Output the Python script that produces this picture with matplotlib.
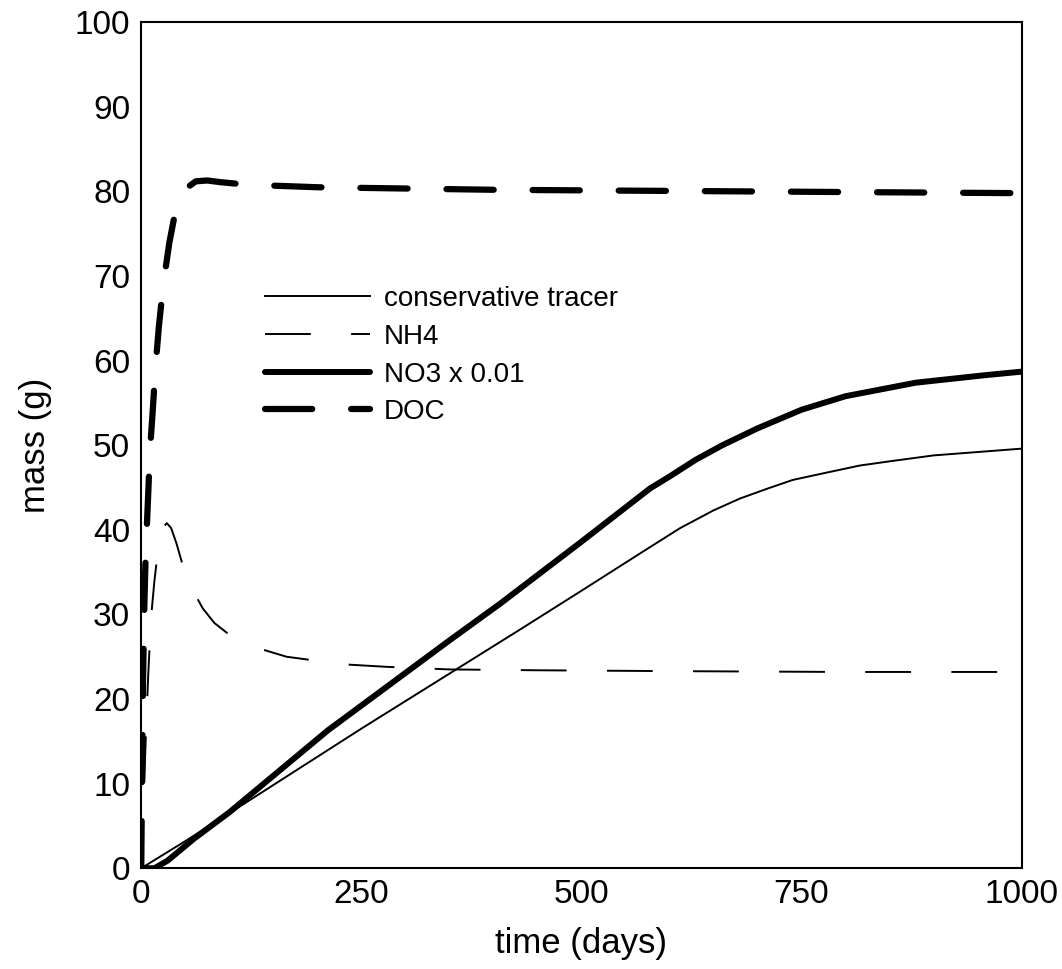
import matplotlib
matplotlib.use('Agg')
import matplotlib.pyplot as plt

plt.rcParams['font.family'] = ['Liberation Sans', 'DejaVu Sans']
plt.rcParams['lines.scale_dashes'] = False

# values
tracer_t = [0, 50, 100, 250, 350, 430, 500, 580, 612, 650, 680, 712, 740, 780, 816,
            850, 900, 950, 1000]
tracer_m = [0, 3.2, 6.5, 16.5, 23, 28.2, 32.8, 38.1, 40.2, 42.3, 43.7, 44.9, 45.9,
            46.8, 47.6, 48.1, 48.8, 49.2, 49.6]

nh4_t = [0, 2, 4, 6, 8, 11, 15, 20, 25, 29, 34, 40, 48, 55, 70, 83, 100, 130, 165,
         230, 280, 350, 450, 600, 800, 1000]
nh4_m = [0, 6, 12, 18, 23, 29.5, 34, 38.5, 40.3, 40.8, 40.2, 38.4, 35.5, 33.5, 30.7,
         29, 27.6, 26.1, 25.0, 24.1, 23.8, 23.5, 23.4, 23.3, 23.2, 23.2]

no3_t = [0, 15, 30, 60, 100, 212, 351, 408, 500, 578, 600, 630, 660, 700, 750, 800,
         880, 960, 1000]
no3_m = [0, 0, 0.9, 3.5, 6.6, 16.3, 27, 31.3, 38.6, 44.9, 46.3, 48.3, 50.0, 52.0,
         54.2, 55.8, 57.4, 58.3, 58.7]

doc_t = [0, 1, 2, 3.5, 5, 7, 9, 11, 13, 16, 20, 25, 32, 40, 50, 62, 75, 90, 120,
         200, 400, 700, 1000]
doc_m = [0, 12, 22, 31, 37, 42, 47, 51, 54, 59, 64, 69, 74, 78.3, 80.3, 81.2, 81.3,
         81.1, 80.8, 80.5, 80.2, 80.0, 79.8]

fig = plt.figure(figsize=(10.62, 9.69), dpi=100)
ax = fig.add_axes([0.133, 0.104, 0.829, 0.873])

ax.plot(tracer_t, tracer_m, color='black', lw=1.4, label='conservative tracer')
ax.plot(nh4_t, nh4_m, color='black', lw=1.4, dashes=(33, 29), label='NH4')
ax.plot(no3_t, no3_m, color='black', lw=4.3, solid_capstyle='round', label='NO3 x 0.01')
ax.plot(doc_t, doc_m, color='black', lw=4.5, dashes=(34, 28),
        dash_capstyle='round', label='DOC')

ax.set_xlim(0, 1000)
ax.set_ylim(0, 100)
ax.set_xticks([0, 250, 500, 750, 1000])
ax.set_yticks(range(0, 101, 10))
ax.tick_params(length=0, labelsize=24, pad=8)
for s in ax.spines.values():
    s.set_linewidth(1.5)

ax.set_xlabel('time (days)', fontsize=25, labelpad=12)
ax.set_ylabel('mass (g)', fontsize=25, labelpad=16)

ax.legend(loc='upper left', bbox_to_anchor=(0.14, 0.688), frameon=False,
          fontsize=20, handlelength=3.8, handletextpad=0.5, labelspacing=0.42,
          borderpad=0, borderaxespad=0)

fig.savefig('out.png', dpi=100)
